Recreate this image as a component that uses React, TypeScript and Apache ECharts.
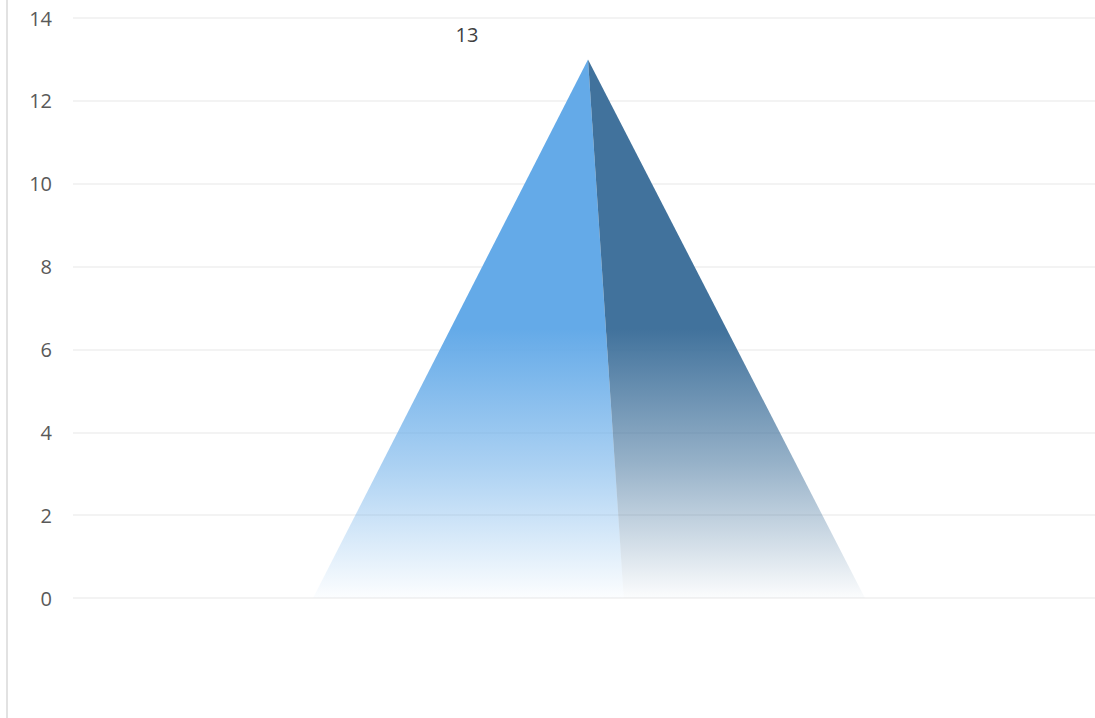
import React, { useEffect, useRef } from "react";
import * as echarts from "echarts";

const categories: string[] = ["Pyramid"];
const values: number[] = [13];
const yTicks: number[] = [0, 2, 4, 6, 8, 10, 12, 14];

export default function App() {
  const ref = useRef<HTMLDivElement>(null);
  useEffect(() => {
    if (!ref.current) return;
    const chart = echarts.init(ref.current, undefined, { renderer: "svg" });
    const font = "'Segoe UI', 'Open Sans', 'Noto Sans', sans-serif";
    chart.setOption({
      animation: false,
      backgroundColor: "#ffffff",
      grid: { left: 73, right: 0, top: 18, bottom: 120, containLabel: false },
      xAxis: {
        type: "category",
        data: categories,
        axisLine: { show: false },
        axisTick: { show: false },
        axisLabel: { show: false },
        splitLine: { show: false },
      },
      yAxis: {
        type: "value",
        min: yTicks[0],
        max: yTicks[yTicks.length - 1],
        interval: 2,
        axisLine: { show: false },
        axisTick: { show: false },
        axisLabel: { color: "#595959", fontSize: 20, fontFamily: font, margin: 21 },
        splitLine: { lineStyle: { color: "#efefef", width: 1.5 } },
      },
      graphic: [
        {
          type: "line",
          shape: { x1: 7, y1: 0, x2: 7, y2: 718 },
          style: { stroke: "#d9d9d9", lineWidth: 1.5 },
          silent: true,
        },
      ],
      series: [
        {
          type: "custom",
          data: values.map((v, i) => [i, v]),
          renderItem: (params: any, api: any) => {
            const idx = api.value(0);
            const val = api.value(1);
            const apex = api.coord([idx, val]);
            const base = api.coord([idx, 0]);
            const band = api.size([1, 0])[0];
            const half = band * 0.27;
            const cx = base[0] + 5;
            const splitX = cx + band * 0.034;
            const ax = cx - 1;
            const leftGrad = new echarts.graphic.LinearGradient(0, 0, 0, 1, [
              { offset: 0, color: "rgba(100,170,232,1)" },
              { offset: 0.5, color: "rgba(100,170,232,1)" },
              { offset: 0.75, color: "rgba(100,170,232,0.55)" },
              { offset: 1, color: "rgba(100,170,232,0.02)" },
            ]);
            const rightGrad = new echarts.graphic.LinearGradient(0, 0, 0, 1, [
              { offset: 0, color: "rgba(65,114,156,1)" },
              { offset: 0.5, color: "rgba(65,114,156,1)" },
              { offset: 0.75, color: "rgba(65,114,156,0.55)" },
              { offset: 1, color: "rgba(65,114,156,0.02)" },
            ]);
            return {
              type: "group",
              children: [
                {
                  type: "polygon",
                  shape: { points: [[ax, apex[1]], [cx - half, base[1]], [splitX, base[1]]] },
                  style: { fill: leftGrad },
                },
                {
                  type: "polygon",
                  shape: { points: [[ax, apex[1]], [splitX, base[1]], [cx + half, base[1]]] },
                  style: { fill: rightGrad },
                },
                {
                  type: "text",
                  x: ax - 121,
                  y: apex[1] - 25,
                  style: {
                    text: String(val),
                    fill: "#404040",
                    fontSize: 20,
                    fontFamily: font,
                    align: "center",
                    verticalAlign: "middle",
                  },
                },
              ],
            };
          },
        },
      ],
    });
    return () => chart.dispose();
  }, []);
  return (
    <div
      ref={ref}
      style={{ position: "absolute", left: 0, top: 0, width: 1095, height: 718 }}
    />
  );
}
